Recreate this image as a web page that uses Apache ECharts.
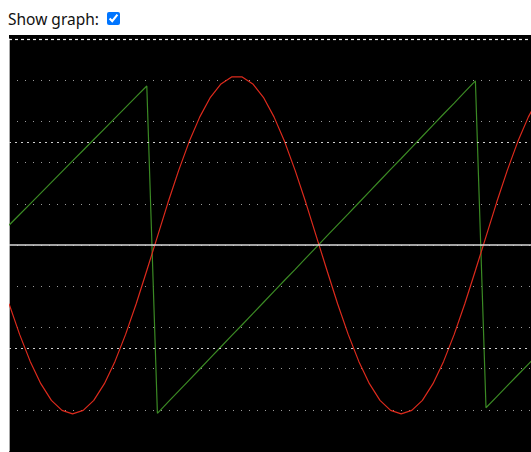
<!DOCTYPE html>
<html>
<head>
<meta charset="utf-8">
<script src="https://cdn.jsdelivr.net/npm/echarts@6/dist/echarts.min.js"></script>
<style>
  html, body { margin: 0; padding: 0; overflow: hidden; background: #fff; }
  #label { position: absolute; left: 8px; top: 8px; font-family: "Noto Sans", sans-serif; font-size: 15.5px; color: #111; }
  #cb { position: absolute; left: 107px; top: 12px; margin: 0; width: 13px; height: 13px; }
  #chart { position: absolute; left: 9px; top: 35px; width: 560px; height: 420px; background: #000; }
</style>
</head>
<body>
<div id="label">Show graph:</div>
<input id="cb" type="checkbox" checked>
<div id="chart"></div>
<script>
// sample indices along the time axis
const sampleIndex = [0,1,2,3,4,5,6,7,8,9,10,11,12,13,14,15,16,17,18,19,20,21,22,23,24,25,
  26,27,28,29,30,31,32,33,34,35,36,37,38,39,40,41,42,43,44,45,46,47,48,49,50,51];

// red sine-like trace
const sineValues = [-0.285,-0.434,-0.565,-0.673,-0.754,-0.803,-0.820,-0.803,-0.754,-0.673,
  -0.565,-0.434,-0.285,-0.124,0.041,0.206,0.361,0.502,0.622,0.717,0.782,0.816,0.816,0.782,
  0.717,0.622,0.502,0.361,0.206,0.041,-0.124,-0.285,-0.434,-0.565,-0.673,-0.754,-0.803,
  -0.820,-0.803,-0.754,-0.673,-0.565,-0.434,-0.285,-0.124,0.041,0.206,0.361,0.502,0.622,
  0.717,0.782];

// green sawtooth trace
const sawValues = [0.096,0.148,0.200,0.252,0.304,0.356,0.408,0.460,0.512,0.564,0.616,0.668,
  0.720,0.772,-0.817,-0.763,-0.709,-0.656,-0.602,-0.548,-0.494,-0.440,-0.387,-0.333,-0.279,
  -0.225,-0.171,-0.118,-0.064,-0.010,0.044,0.098,0.151,0.205,0.259,0.313,0.367,0.420,0.474,
  0.528,0.582,0.636,0.689,0.743,0.797,-0.790,-0.737,-0.684,-0.631,-0.578,-0.525,-0.472];

// reference levels
const yRange = [-1, 1];
const gridStep = 0.2;
const zeroLevel = [0];
const halfLevels = [0.5, -0.5];
const topLevels = [1];

const chart = echarts.init(document.getElementById('chart'), null, { renderer: 'canvas' });

const markData = [];
zeroLevel.forEach(v => markData.push({ yAxis: v, lineStyle: { color: '#d8d8d8', width: 1.5, type: 'solid' } }));
halfLevels.forEach(v => markData.push({ yAxis: v, lineStyle: { color: '#d0d0d0', width: 1, type: [2, 4] } }));
topLevels.forEach(v => markData.push({ yAxis: v, lineStyle: { color: '#f0f0f0', width: 1.2, type: [3, 3] } }));

chart.setOption({
  animation: false,
  backgroundColor: '#000',
  grid: { left: 0, top: 4, width: 540.6, height: 412, containLabel: false },
  xAxis: {
    type: 'category',
    data: sampleIndex,
    boundaryGap: false,
    axisLine: { show: false },
    axisTick: { show: false },
    axisLabel: { show: false },
    splitLine: { show: false }
  },
  yAxis: {
    type: 'value',
    min: yRange[0],
    max: yRange[1],
    interval: gridStep,
    axisLine: { show: true, onZero: false, lineStyle: { color: '#a8a8a8', width: 1 } },
    axisTick: { show: false },
    axisLabel: { show: false },
    splitLine: {
      show: true,
      showMinLine: false,
      showMaxLine: false,
      lineStyle: { color: '#9a9a9a', width: 1, type: [1, 7] }
    }
  },
  series: [
    {
      type: 'line',
      data: [],
      z: 1,
      silent: true,
      markLine: { symbol: 'none', silent: true, label: { show: false }, animation: false, data: markData }
    },
    {
      type: 'line',
      data: sawValues,
      showSymbol: false,
      z: 3,
      lineStyle: { color: '#3b8a24', width: 1.2 }
    },
    {
      type: 'line',
      data: sineValues,
      showSymbol: false,
      z: 4,
      lineStyle: { color: '#dc2a1c', width: 1.2 }
    }
  ]
});
</script>
</body>
</html>
